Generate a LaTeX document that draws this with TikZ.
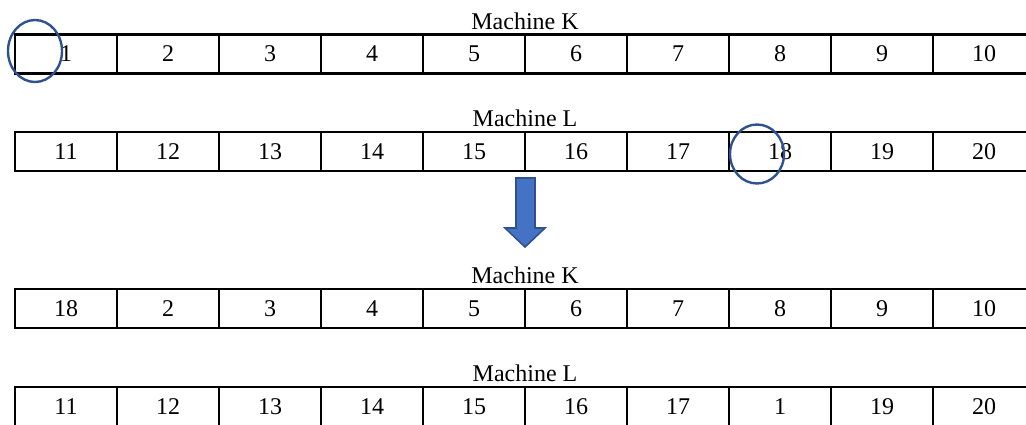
\documentclass[tikz,border=0pt]{standalone}
\usepackage{fontspec}
\setmainfont{Liberation Serif}
\usepackage{xcolor}
\usetikzlibrary{positioning,calc}
\definecolor{ringblue}{HTML}{2F528F}
\definecolor{arrowblue}{HTML}{4472C4}

\begin{document}
\begin{tikzpicture}[x=0.5pt,y=-0.5pt,
    cell/.style={draw, line width=1.2pt, minimum width=51pt, minimum height=19.5pt, inner sep=0pt, font=\fontsize{12}{14}\selectfont},
    machlabel/.style={anchor=base, inner sep=0pt, font=\fontsize{12}{14}\selectfont},
    ring/.style={draw=ringblue, line width=1.2pt}]
    \useasboundingbox (0,0) rectangle (1026,424);
    % before the swap
    \node[machlabel] (labK1) at (525,29) {Machine K};
    \foreach \v [count=\i] in {1,2,3,4,5,6,7,8,9,10}
        \node[cell] (ka\i) at ({66+102*(\i-1)},54) {\v};
    \node[machlabel] (labL1) at (525,126) {Machine L};
    \foreach \v [count=\i] in {11,12,13,14,15,16,17,18,19,20}
        \node[cell] (la\i) at ({66+102*(\i-1)},151.5) {\v};
    % marked jobs
    \draw[ring] (35,51) ellipse [x radius=13.5pt, y radius=15.5pt];
    \draw[ring] (757,154) ellipse [x radius=13.5pt, y radius=14.75pt];
    % swap arrow
    \draw[draw=ringblue, fill=arrowblue, line width=0.8pt, line join=miter]
        (516,178) -- (535,178) -- (535,228) -- (545,228) -- (525,247) -- (505,228) -- (516,228) -- cycle;
    % after the swap
    \node[machlabel] (labK2) at (525,283) {Machine K};
    \foreach \v [count=\i] in {18,2,3,4,5,6,7,8,9,10}
        \node[cell] (kb\i) at ({66+102*(\i-1)},308.5) {\v};
    \node[machlabel] (labL2) at (525,381) {Machine L};
    \foreach \v [count=\i] in {11,12,13,14,15,16,17,1,19,20}
        \node[cell] (lb\i) at ({66+102*(\i-1)},406.5) {\v};
\end{tikzpicture}
\end{document}
